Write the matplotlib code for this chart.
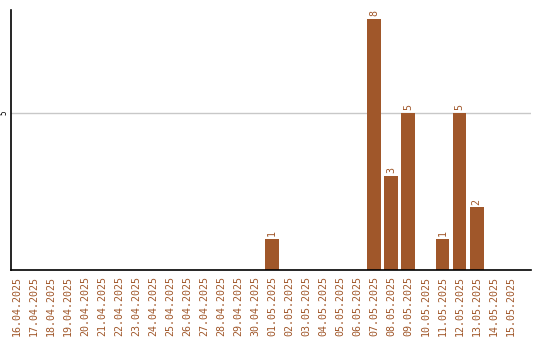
import matplotlib
matplotlib.use("Agg")
import matplotlib.pyplot as plt

dates = ["16.04.2025", "17.04.2025", "18.04.2025", "19.04.2025", "20.04.2025",
         "21.04.2025", "22.04.2025", "23.04.2025", "24.04.2025", "25.04.2025",
         "26.04.2025", "27.04.2025", "28.04.2025", "29.04.2025", "30.04.2025",
         "01.05.2025", "02.05.2025", "03.05.2025", "04.05.2025", "05.05.2025",
         "06.05.2025", "07.05.2025", "08.05.2025", "09.05.2025", "10.05.2025",
         "11.05.2025", "12.05.2025", "13.05.2025", "14.05.2025", "15.05.2025"]
values = [0, 0, 0, 0, 0, 0, 0, 0, 0, 0, 0, 0, 0, 0, 0,
          1, 0, 0, 0, 0, 0, 8, 3, 5, 0, 1, 5, 2, 0, 0]
yticks = [5]

color = "#a0572a"
fig = plt.figure(figsize=(5.4, 3.4), dpi=100)
ax = fig.add_axes([11/540, 70/340, 520/540, 260/340])
x = list(range(len(dates)))
bars = ax.bar(x, values, width=0.82, color=color, zorder=2)
for xi, v in zip(x, values):
    if v > 0:
        ax.text(xi, v + 0.08, str(v), rotation=90, ha="center", va="bottom",
                color=color, fontsize=7.2, family="DejaVu Sans Mono")
ax.set_xlim(-0.35, 30.2)
ax.set_ylim(0, 8.28)
ax.set_xticks(x)
ax.set_xticklabels(dates, rotation=90, color=color, fontsize=7.2,
                   family="DejaVu Sans Mono")
ax.set_yticks(yticks)
ax.set_yticklabels([str(t) for t in yticks], rotation=90, fontsize=5.5,
                   va="center", family="DejaVu Sans Mono")
ax.tick_params(axis="both", length=0)
ax.tick_params(axis="x", pad=4)
ax.tick_params(axis="y", pad=1.5)
ax.yaxis.grid(True, color="#c8c8c8", linewidth=1, zorder=0)
ax.set_axisbelow(True)
for s in ["top", "right"]:
    ax.spines[s].set_visible(False)
for s in ["left", "bottom"]:
    ax.spines[s].set_linewidth(1.2)
    ax.spines[s].set_color("black")
fig.savefig("out.png", dpi=100)
